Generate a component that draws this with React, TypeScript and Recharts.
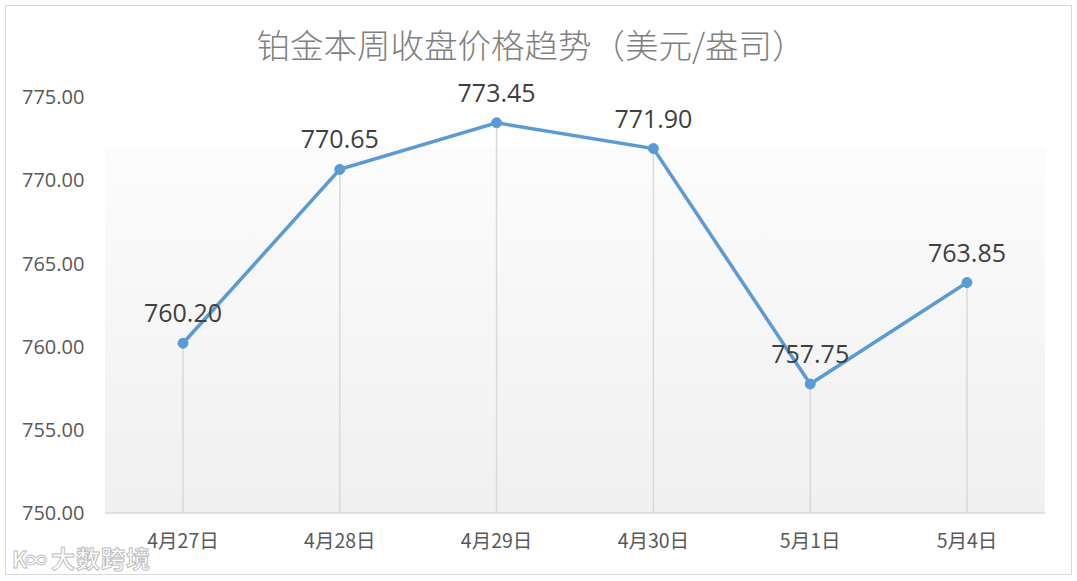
import { LineChart, Line, XAxis, YAxis, CartesianGrid, ReferenceLine, LabelList } from "recharts";

const days = ["4月27日", "4月28日", "4月29日", "4月30日", "5月1日", "5月4日"];
const prices = [760.2, 770.65, 773.45, 771.9, 757.75, 763.85];
const yTicks = [750, 755, 760, 765, 770, 775];

const numFont = "'Open Sans', 'Noto Sans', sans-serif";
const cjkFont = "'Noto Sans CJK SC', 'Noto Sans', sans-serif";

function YTick(props: any) {
  const { y, payload } = props;
  return (
    <text x={22} y={y} dy="0.36em" textAnchor="start" fontSize={20} fill="#595959" fontFamily={numFont}>
      {Number(payload.value).toFixed(2)}
    </text>
  );
}

export default function App() {
  const data = days.map((day, i) => ({ day, price: prices[i] }));

  return (
    <div style={{ position: "absolute", left: 0, top: 0, width: 1077, height: 581, background: "#fff" }}>
      <style>{`body{margin:0}`}</style>
      <div
        style={{
          position: "absolute",
          left: 5,
          top: 5,
          width: 1065,
          height: 568,
          border: "1.5px solid #d9d9d9",
        }}
      />
      <div
        style={{
          position: "absolute",
          left: 0,
          top: 19,
          width: 1062,
          textAlign: "center",
          fontFamily: cjkFont,
          fontWeight: 300,
          fontSize: 33.5,
          color: "#7f7f7f",
          zIndex: 2,
        }}
      >
        铂金本周收盘价格趋势（美元/盎司）
      </div>
      <LineChart
        width={1077}
        height={581}
        data={data}
        margin={{ top: 97, right: 32, bottom: 38, left: 0 }}
        style={{ position: "absolute", left: 0, top: 0 }}
      >
        <defs>
          <linearGradient id="plotBg" x1="0" y1="0" x2="0" y2="1">
            <stop offset="0" stopColor="#ffffff" />
            <stop offset="0.118" stopColor="#ffffff" />
            <stop offset="0.118" stopColor="#fcfcfc" />
            <stop offset="1" stopColor="#f0f0f0" />
          </linearGradient>
        </defs>
        <CartesianGrid horizontal={false} vertical={false} fill="url(#plotBg)" stroke="none" />
        <XAxis
          dataKey="day"
          height={30}
          padding={{ left: 78, right: 78 }}
          axisLine={{ stroke: "#d9d9d9", strokeWidth: 1.5 }}
          tickLine={false}
          tickMargin={15}
          tick={{ fontSize: 19.5, fill: "#595959", fontFamily: cjkFont }}
        />
        <YAxis
          width={105}
          domain={[750, 775]}
          ticks={yTicks}
          axisLine={false}
          tickLine={false}
          tick={<YTick />}
        />
        {data.map((d) => (
          <ReferenceLine
            key={d.day}
            segment={[
              { x: d.day, y: 750 },
              { x: d.day, y: d.price },
            ]}
            stroke="#d9d9d9"
            strokeWidth={1.5}
          />
        ))}
        <Line
          type="linear"
          dataKey="price"
          stroke="#5b9bd5"
          strokeWidth={3.5}
          dot={{ r: 5, fill: "#5b9bd5", stroke: "#5b9bd5", strokeWidth: 1 }}
          isAnimationActive={false}
        >
          <LabelList
            dataKey="price"
            position="top"
            offset={21}
            formatter={(v: any) => Number(v).toFixed(2)}
            style={{ fontSize: 25, fill: "#404040", fontFamily: numFont }}
          />
        </Line>
      </LineChart>
      <div
        style={{
          position: "absolute",
          left: 12,
          top: 540,
          fontFamily: cjkFont,
          fontWeight: 700,
          fontSize: 24,
          color: "#ffffff",
          WebkitTextStroke: "1px #c0c0c0",
          letterSpacing: 1,
          zIndex: 2,
          display: "flex",
          alignItems: "center",
          gap: 6,
        }}
      >
        <span style={{ fontSize: 22, letterSpacing: -2 }}>K∞</span>
        <span>大数跨境</span>
      </div>
    </div>
  );
}
